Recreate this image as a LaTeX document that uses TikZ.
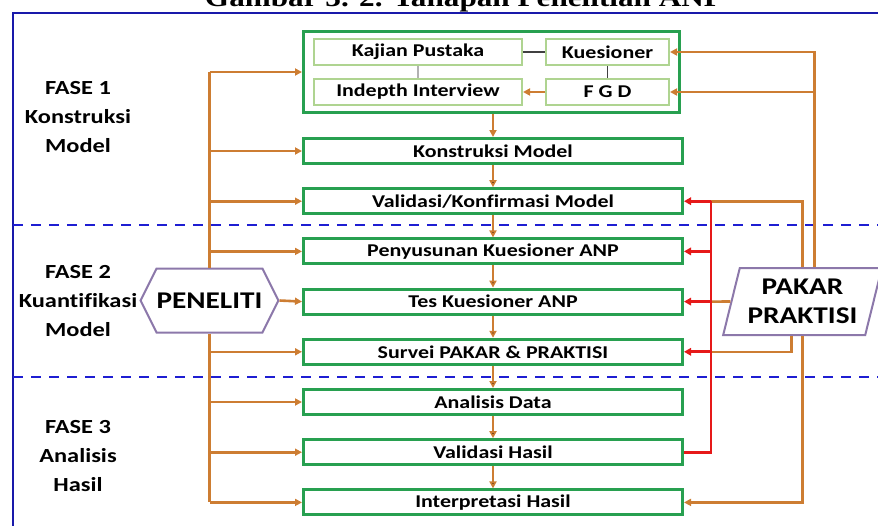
\documentclass[tikz,border=0pt]{standalone}
\usepackage{fontspec}
\setmainfont{Carlito}[FakeStretch=1.22,Ligatures=NoCommon]
\newfontfamily\titlefont{Liberation Serif}[FakeStretch=1.2]
\usepackage{xcolor}
\usepackage{tikz}
\usetikzlibrary{positioning,fit,arrows.meta,shapes.geometric,shapes.symbols}
\definecolor{frameblue}{RGB}{25,25,170}
\definecolor{dashblue}{RGB}{30,30,210}
\definecolor{boxgreen}{RGB}{40,160,80}
\definecolor{innergreen}{RGB}{175,212,145}
\definecolor{linkorange}{RGB}{205,125,50}
\definecolor{linkred}{RGB}{230,25,25}
\definecolor{actorpurple}{RGB}{140,120,170}
\tikzset{stage node/.style={draw=boxgreen,line width=3pt,fill=white,minimum width=379pt,minimum height=25pt,inner sep=0pt,font=\fontsize{18}{20}\selectfont\bfseries},
	sub node/.style={draw=innergreen,line width=2pt,minimum height=26pt,inner sep=0pt,font=\fontsize{18}{20}\selectfont\bfseries},
	fase node/.style={align=center,font=\fontsize{20}{29}\selectfont\bfseries},
	actor node/.style={draw=actorpurple,line width=2pt,fill=white,inner sep=0pt,align=center,font=\fontsize{24}{29}\selectfont\bfseries},
	orange arrow/.style={draw=linkorange,line width=2.6pt,-{Triangle[length=7pt,width=7pt]}},
	orange line/.style={draw=linkorange,line width=2.6pt},
	red arrow/.style={draw=linkred,line width=2.8pt,-{Triangle[length=7pt,width=7.5pt]}},
	red line/.style={draw=linkred,line width=2.8pt},
	phase line/.style={draw=dashblue,line width=2pt,dash pattern=on 10pt off 8pt},}

\begin{document}
\begin{tikzpicture}[x=1pt,y=-1pt]
	\useasboundingbox (0,0) rectangle (878,525);
	\node[font=\titlefont\bfseries\fontsize{26}{26}\selectfont,anchor=base] (title) at (464,6) {Gambar 3. 2. Tahapan Penelitian ANP};
	\draw[frameblue,line width=2pt] (13,560) -- (13,13) -- (900,13);
	\path[phase line] (13,225) -- (900,225);
	\path[phase line] (13,377) -- (900,377);

	\node[fase node] (fase1) at (78,117) {FASE 1\\Konstruksi\\Model};
	\node[fase node] (fase2) at (78,301) {FASE 2\\Kuantifikasi\\Model};
	\node[fase node] (fase3) at (78,456) {FASE 3\\Analisis\\Hasil};

	\node[sub node,minimum width=208pt] (kajian) at (418,52) {Kajian Pustaka};
	\node[sub node,minimum width=123pt] (kuesioner) [right = 22pt of kajian] {Kuesioner};
	\node[sub node,minimum width=208pt] (indepth) [below = 12pt of kajian] {Indepth Interview};
	\node[sub node,minimum width=123pt] (fgd) [below = 12pt of kuesioner] {F G D};
	\node[draw=boxgreen,line width=3pt,inner xsep=9.5pt,inner ysep=6.5pt,fit=(kajian)(fgd)] (fase1box) {};

	\node[stage node] (konstruksi) at (493,151) {Konstruksi Model};
	\node[stage node] (validasi) [below = 22.2pt of konstruksi] {Validasi/Konfirmasi Model};
	\node[stage node] (penyusunan) [below = 22.2pt of validasi] {Penyusunan Kuesioner ANP};
	\node[stage node] (tes) [below = 22.2pt of penyusunan] {Tes Kuesioner ANP};
	\node[stage node] (survei) [below = 22.2pt of tes] {Survei PAKAR \& PRAKTISI};
	\node[stage node] (analisis) [below = 22.2pt of survei] {Analisis Data};
	\node[stage node] (valhasil) [below = 22.2pt of analisis] {Validasi Hasil};
	\node[stage node] (interpretasi) [below = 22.2pt of valhasil] {Interpretasi Hasil};

	\node[actor node,shape=signal,signal to=west and east,signal pointer angle=127,minimum width=125pt,minimum height=64pt] (peneliti) at (209.5,300.5) {PENELITI};
	\node[actor node,shape=trapezium,trapezium left angle=72,trapezium right angle=108,trapezium stretches=true,minimum width=159pt,minimum height=67pt] (pakar) at (802.5,301.5) {PAKAR\\PRAKTISI};
	\coordinate (redbus) at ([xshift=27pt]validasi.east);

	\path[draw,line width=1.5pt,black!75] (kajian) -- (kuesioner) (kuesioner) -- (fgd);
	\path[draw,line width=1.5pt,black!30] (kajian) -- (indepth);
	\path[orange arrow] (fgd) -- (indepth);

	\path[orange line] (peneliti |- fase1box.west) -- (peneliti.north);
	\path[orange line] (peneliti.south) -- (peneliti |- interpretasi.west);
	\foreach \b in {fase1box,konstruksi,validasi,penyusunan,survei,analisis,valhasil,interpretasi}
		\path[orange arrow] (peneliti |- \b.west) -- (\b.west);
	\path[orange arrow] (peneliti.east) -- (tes.west);

	\path[orange arrow] (konstruksi.north |- fase1box.south) -- (konstruksi.north);
	\path[orange arrow] (konstruksi) edge (validasi) (validasi) edge (penyusunan) (penyusunan) edge (tes) (tes) edge (survei)
		(survei) edge (analisis) (analisis) edge (valhasil) (valhasil) edge (interpretasi);

	\path[orange arrow] ([xshift=12pt]pakar.north) |- (kuesioner.east);
	\path[orange arrow] ([xshift=12pt]pakar.north |- fgd.east) -- (fgd.east);
	\path[orange line] (pakar.north) |- (redbus);
	\path[orange line] (pakar.west) -- (redbus |- tes.east);
	\path[orange line] ([xshift=-11pt]pakar.south) |- (redbus |- survei.east);
	\path[orange arrow] (pakar.south) |- (interpretasi.east);

	\path[red line] (valhasil.east) -| (redbus);
	\foreach \b in {validasi,penyusunan,tes,survei}
		\path[red arrow] (redbus |- \b.east) -- (\b.east);
\end{tikzpicture}
\end{document}
